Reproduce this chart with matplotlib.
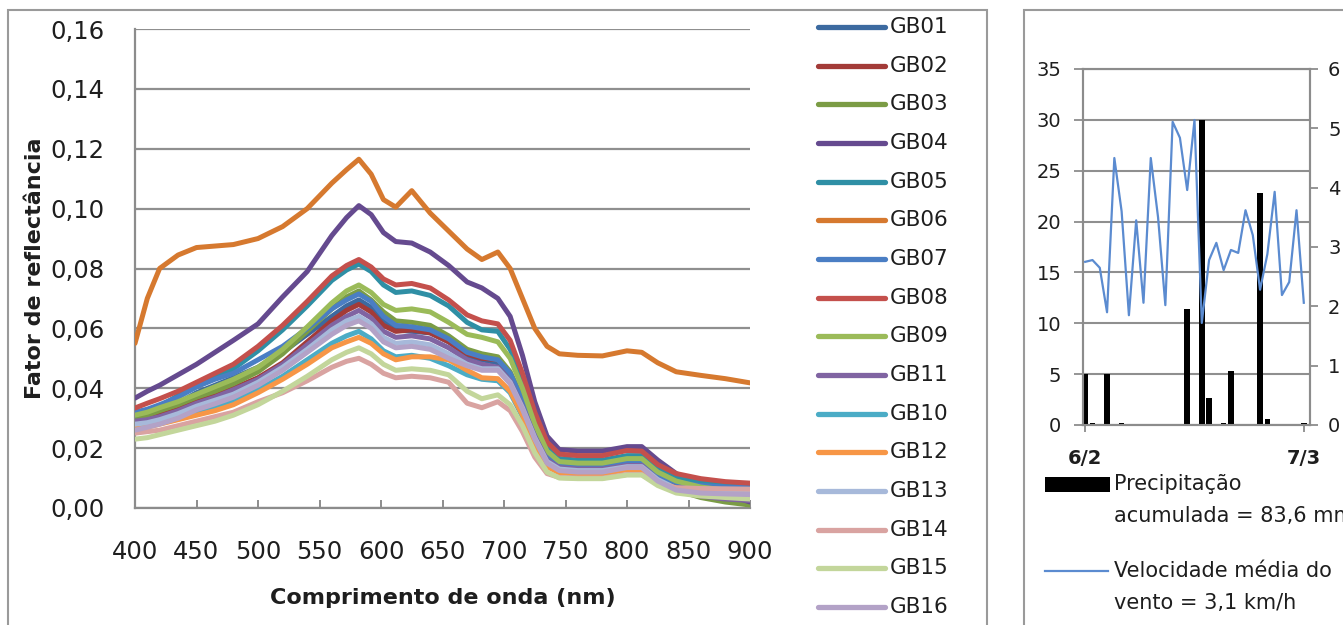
import numpy as np
import pandas as pd
import matplotlib
matplotlib.use("Agg")
import matplotlib.pyplot as plt
from matplotlib.patches import Rectangle
from matplotlib.lines import Line2D
from matplotlib.ticker import FuncFormatter, MultipleLocator

W, H = 1343, 625
FRAME, GRID, INK = "#8c8c8c", "#8f8f8f", "#1e1e1e"
SANS = "DejaVu Sans"

# --- spectral reflectance (left panel) ---
WAVELENGTH = [400, 410, 420, 435, 450, 465, 480, 500, 520, 540, 560, 572, 582, 592, 602, 612, 625, 640,
              655, 670, 682, 695, 705, 715, 725, 735, 745, 760, 780, 800, 812, 825, 840, 860, 880, 900]

GB01 = [.030, .031, .0325, .035, .0385, .041, .0435, .047, .052, .058, .064, .0675, .0695, .067, .0625, .0595, .059, .0585,
        .0555, .051, .0495, .0485, .044, .0355, .025, .0165, .0135, .013, .013, .0145, .0145, .010, .0075, .006, .0055, .005]
GB02 = [.029, .030, .031, .033, .0355, .038, .040, .0435, .0485, .0555, .0625, .066, .068, .0655, .061, .059, .0595, .0585,
        .0555, .0515, .050, .0495, .045, .036, .0255, .0168, .014, .0135, .0135, .015, .015, .0105, .008, .007, .0065, .006]
GB03 = [.030, .031, .0325, .0345, .037, .039, .0415, .0455, .0515, .059, .0665, .0705, .0725, .0695, .0655, .0625, .062, .061,
        .0575, .053, .0515, .0505, .0455, .0365, .026, .0175, .0145, .014, .014, .0158, .0158, .0105, .006, .0035, .002, .001]
GB04 = [.0367, .039, .041, .0445, .048, .052, .056, .0615, .0705, .079, .091, .097, .101, .098, .092, .089, .0885, .0855,
        .081, .0755, .0735, .070, .064, .051, .0355, .024, .0195, .019, .019, .0205, .0205, .016, .0115, .0075, .0045, .002]
GB05 = [.031, .0325, .034, .0375, .0405, .0435, .0465, .0525, .0595, .0675, .076, .0795, .0815, .079, .0745, .072, .0725, .071,
        .0675, .062, .0595, .059, .053, .043, .030, .020, .0165, .016, .016, .0175, .0175, .013, .010, .0085, .0075, .007]
GB06 = [.055, .070, .080, .0845, .087, .0875, .088, .090, .094, .100, .1085, .113, .1165, .1115, .103, .1005, .106, .0985,
        .0925, .0865, .083, .0855, .080, .070, .060, .054, .0515, .051, .0508, .0525, .052, .0485, .0455, .0443, .0432, .0418]
GB07 = [.032, .033, .0345, .037, .0405, .043, .045, .0495, .054, .060, .0665, .0695, .0715, .069, .064, .061, .0605, .0595,
        .0565, .052, .0505, .0495, .045, .036, .0255, .017, .014, .0135, .0135, .015, .015, .0108, .0085, .0075, .007, .0068]
GB08 = [.0334, .035, .0365, .039, .042, .045, .048, .054, .061, .069, .0775, .081, .083, .0805, .0765, .0745, .075, .0735,
        .0695, .0645, .0625, .0615, .056, .045, .032, .022, .018, .0175, .0175, .0192, .019, .0145, .0115, .0098, .0088, .0083]
GB09 = [.031, .032, .0335, .0355, .038, .0405, .043, .047, .053, .0605, .0685, .0725, .0745, .072, .068, .066, .0665, .0655,
        .062, .058, .057, .0555, .050, .040, .028, .019, .0155, .015, .015, .0165, .0165, .012, .009, .007, .006, .005]
GB11 = [.029, .0295, .0305, .0325, .035, .037, .0395, .043, .048, .0545, .061, .064, .066, .0635, .059, .057, .0575, .0565,
        .0535, .0495, .048, .047, .0425, .034, .024, .016, .0135, .013, .013, .0142, .0142, .0095, .006, .004, .003, .0025]
GB10 = [.0275, .028, .029, .0305, .032, .034, .036, .0395, .044, .0495, .055, .0575, .059, .0565, .0525, .0505, .051, .050,
        .0475, .0445, .043, .0425, .0385, .0305, .021, .014, .0118, .0115, .0115, .013, .013, .0088, .006, .005, .0045, .004]
GB12 = [.0265, .027, .028, .0295, .031, .0325, .0345, .0385, .043, .048, .0535, .0555, .057, .055, .0515, .0495, .0505, .0505,
        .0495, .046, .0435, .0432, .039, .031, .021, .0138, .0118, .0115, .0115, .0128, .0128, .0085, .006, .0048, .0042, .004]
GB13 = [.028, .0285, .0295, .0315, .034, .036, .038, .042, .047, .053, .0595, .0625, .064, .0615, .057, .055, .0555, .0545,
        .0515, .048, .0465, .0465, .042, .0335, .0235, .0155, .013, .0125, .0125, .0138, .0138, .0095, .0065, .0055, .005, .005]
GB14 = [.025, .0255, .026, .0275, .029, .0305, .032, .0355, .0385, .0425, .047, .049, .050, .048, .045, .0435, .044, .0435,
        .042, .035, .0335, .0355, .0325, .0255, .017, .0115, .0102, .010, .010, .0112, .0112, .008, .0068, .0065, .0064, .0063]
GB15 = [.023, .0235, .0245, .026, .0275, .029, .031, .0345, .039, .044, .0495, .052, .0535, .0515, .048, .046, .0465, .046,
        .0445, .039, .0365, .0378, .0345, .0275, .0185, .012, .010, .0098, .0098, .011, .011, .0075, .005, .004, .0035, .003]
GB16 = [.026, .027, .028, .030, .0328, .0348, .037, .041, .046, .052, .058, .061, .0625, .060, .0555, .0535, .054, .053,
        .050, .0475, .046, .046, .0415, .033, .023, .015, .0125, .012, .012, .0135, .0135, .009, .006, .005, .0047, .0045]

SAMPLES = {"GB01": GB01, "GB02": GB02, "GB03": GB03, "GB04": GB04, "GB05": GB05, "GB06": GB06,
           "GB07": GB07, "GB08": GB08, "GB09": GB09, "GB11": GB11, "GB10": GB10, "GB12": GB12,
           "GB13": GB13, "GB14": GB14, "GB15": GB15, "GB16": GB16}
COLORS = {"GB01": "#3c6aa0", "GB02": "#a33b38", "GB03": "#7b9c45", "GB04": "#654a8f", "GB05": "#2f8fa5",
          "GB06": "#d6792f", "GB07": "#4a7ec4", "GB08": "#c4504c", "GB09": "#9bbb59", "GB11": "#8064a2",
          "GB10": "#4bacc6", "GB12": "#f79646", "GB13": "#a7b9da", "GB14": "#d9a3a1", "GB15": "#c3d69b",
          "GB16": "#b3a2c7"}

# --- daily weather (right panel) ---
DAYS = pd.date_range("2012-02-06", "2012-03-07", freq="D")
PRECIP = [5.0, 0.2, 0, 5.0, 0, 0.2, 0, 0, 0, 0, 0, 0, 0, 0, 11.4, 0, 30.0, 2.7, 0, 0.2, 5.3,
          0, 0, 0, 22.8, 0.6, 0, 0, 0, 0, 0.2]
WIND = [2.75, 2.78, 2.65, 1.90, 4.50, 3.60, 1.85, 3.45, 2.06, 4.50, 3.50, 2.02, 5.11, 4.84, 3.96, 5.14,
        1.72, 2.78, 3.07, 2.61, 2.95, 2.90, 3.62, 3.20, 2.28, 2.88, 3.93, 2.19, 2.41, 3.62, 2.06]


def fx(px):
    return px / W


def fy(py):
    return 1 - py / H


def comma(v, nd):
    return f"{v:.{nd}f}".replace(".", ",")


plt.rcParams["font.family"] = SANS
fig = plt.figure(figsize=(W / 100, H / 100), dpi=100, facecolor="white")

# outer chart frames (they run past the canvas edge)
fig.add_artist(Rectangle((fx(8), fy(660)), fx(987 - 8), (660 - 10) / H, fill=False,
                         ec="#9a9a9a", lw=1.5, transform=fig.transFigure))
fig.add_artist(Rectangle((fx(1024), fy(660)), fx(400), (660 - 10) / H, fill=False,
                         ec="#9a9a9a", lw=1.5, transform=fig.transFigure))

# ---------- left: reflectance factor ----------
ax = fig.add_axes([fx(135), fy(508), fx(750 - 135), (508 - 29) / H])
for name, vals in SAMPLES.items():
    ax.plot(WAVELENGTH, vals, color=COLORS[name], lw=3.6, solid_joinstyle="round",
            solid_capstyle="round", zorder=3)
ax.set_xlim(400, 900)
ax.set_ylim(0, 0.16)
ax.xaxis.set_major_locator(MultipleLocator(50))
ax.yaxis.set_major_locator(MultipleLocator(0.02))
ax.yaxis.set_major_formatter(FuncFormatter(lambda v, _: comma(v, 2)))
ax.yaxis.grid(True, color=GRID, lw=1.6, zorder=0)
for s in ("top", "right"):
    ax.spines[s].set_visible(False)
for s in ("left", "bottom"):
    ax.spines[s].set_color(FRAME)
    ax.spines[s].set_linewidth(1.6)
ax.tick_params(axis="x", direction="in", length=6, width=1.4, color=FRAME, pad=23,
               labelsize=17.5, labelcolor=INK)
ax.tick_params(axis="y", length=0, pad=22, labelsize=17.5, labelcolor=INK)
ax.set_xlabel("Comprimento de onda (nm)", fontsize=16, fontweight="bold", color=INK, va="center")
ax.xaxis.set_label_coords(0.5, (508 - 598) / 479)
ax.set_ylabel("Fator de reflectância", fontsize=16, fontweight="bold", color=INK, va="center")
ax.yaxis.set_label_coords((35 - 135) / 615, 0.5)

# legend, one row per sample
for i, name in enumerate(SAMPLES):
    y = 27 + i * (607 - 27) / (len(SAMPLES) - 1)
    fig.add_artist(Line2D([fx(818), fx(885)], [fy(y), fy(y)], color=COLORS[name], lw=3.8,
                          solid_capstyle="round", transform=fig.transFigure))
    fig.text(fx(890), fy(y), name, fontsize=15.5, color=INK, va="center", ha="left")

# ---------- right: precipitation and wind ----------
x = np.arange(len(DAYS))
axp = fig.add_axes([fx(1083), fy(425), fx(1310 - 1083), (425 - 69) / H])
axp.bar(x, PRECIP, width=0.75, color="black", zorder=3)
axp.set_xlim(-0.3, len(DAYS) - 1 + 0.85)
axp.set_ylim(0, 35)
axp.yaxis.set_major_locator(MultipleLocator(5))
axp.yaxis.grid(True, color=GRID, lw=1.5, zorder=0)
axp.set_xticks([x[0], x[-1]])
axp.set_xticklabels([f"{d.day}/{d.month}" for d in (DAYS[0], DAYS[-1])], fontweight="bold")
axp.tick_params(axis="x", direction="out", length=5, width=1.3, color=FRAME, pad=12,
                labelsize=14, labelcolor=INK)
axp.tick_params(axis="y", direction="out", length=6.5, width=1.3, color=FRAME, pad=9,
                labelsize=14, labelcolor=INK)
for s in axp.spines.values():
    s.set_color(FRAME)
    s.set_linewidth(1.5)

axw = axp.twinx()
axw.plot(x, WIND, color="#5b8bd0", lw=1.6, zorder=4)
axw.set_ylim(0, 6)
axw.yaxis.set_major_locator(MultipleLocator(1))
axw.tick_params(axis="y", direction="out", length=6, width=1.3, color=FRAME, pad=7,
                labelsize=14, labelcolor=INK)
for s in axw.spines.values():
    s.set_color(FRAME)
    s.set_linewidth(1.5)

# legend block under the weather chart
total_rain = comma(sum(PRECIP), 1)
mean_wind = comma(float(np.mean(WIND)), 1)
fig.add_artist(Rectangle((fx(1045), fy(492)), fx(1110 - 1045), (492 - 477) / H, fc="black", ec="none",
                         transform=fig.transFigure))
fig.text(fx(1114), fy(484), "Precipitação", fontsize=15, color=INK, va="center")
fig.text(fx(1114), fy(516), f"acumulada = {total_rain} mm", fontsize=15, color=INK, va="center")
fig.add_artist(Line2D([fx(1045), fx(1108)], [fy(571), fy(571)], color="#5b8bd0", lw=1.6,
                      transform=fig.transFigure))
fig.text(fx(1114), fy(571), "Velocidade média do", fontsize=15, color=INK, va="center")
fig.text(fx(1114), fy(603), f"vento = {mean_wind} km/h", fontsize=15, color=INK, va="center")

fig.savefig("out.png", dpi=100, facecolor="white")
